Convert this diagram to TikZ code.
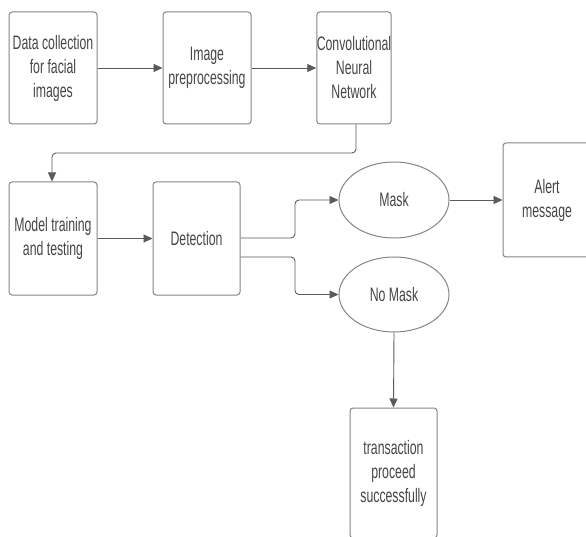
\documentclass[tikz,border=0pt]{standalone}
\usepackage{fontspec}
\setmainfont{Liberation Sans}[FakeStretch=0.63]
\usetikzlibrary{arrows.meta,shapes.geometric,calc}
\definecolor{boxline}{HTML}{858585}
\definecolor{connline}{HTML}{5A5A5A}
\definecolor{txt}{HTML}{464646}
\begin{document}
\begin{tikzpicture}[x=1pt,y=-1pt,
  every node/.style={font=\fontsize{19.5}{24}\selectfont, text=txt, align=center, inner sep=0pt},
  procbox/.style={draw=boxline, line width=1pt, rounded corners=3pt, fill=white},
  decision/.style={draw=boxline, line width=1pt, ellipse, fill=white},
  conn/.style={draw=connline, line width=0.9pt, rounded corners=4pt, -{Triangle[length=9pt,width=8pt]}}]
\useasboundingbox (0,0) rectangle (586,537);
\fill[white] (0,0) rectangle (586,537);

\node[procbox, minimum width=88pt, minimum height=112pt] (data) at (53,68) {Data collection\\for facial\\images};
\node[procbox, minimum width=88pt, minimum height=112pt] (prep) at (207,68) {Image\\preprocessing};
\node[procbox, minimum width=74pt, minimum height=112pt] (cnn) at (354,68) {Convolutional\\Neural\\Network};

\node[procbox, minimum width=88pt, minimum height=113pt] (model) at (53,238.5) {Model training\\and testing};
\node[procbox, minimum width=87pt, minimum height=113pt] (det) at (196.5,238.5) {Detection};

\node[decision, minimum width=110pt, minimum height=76pt] (mask) at (394,200) {Mask};
\node[decision, minimum width=110pt, minimum height=75pt] (nomask) at (394,294.5) {No Mask};

\node[procbox, minimum width=88pt, minimum height=114pt] (alert) at (547,200) {Alert\\message};
\node[procbox, minimum width=87pt, minimum height=130pt] (trans) at (393.5,473) {transaction\\proceed\\successfully};

\coordinate (c1) at (356,153);
\coordinate (b1) at (295,238);
\coordinate (b2) at (295,257);

\draw[conn] (data.east) -- (prep.west);
\draw[conn] (prep.east) -- (cnn.west);
\draw[conn] ([xshift=2pt]cnn.south) -- ([xshift=2pt]cnn.south |- c1) -| ([xshift=-1pt]model.north);
\draw[conn] (model.east) -- (det.west);
\draw[conn] (det.east |- b1) -- (b1) |- (mask.west);
\draw[conn] (det.east |- b2) -- (b2) |- (nomask.west);
\draw[conn] (mask.east) -- (alert.west);
\draw[conn] (nomask.south) -- (trans.north);
\end{tikzpicture}
\end{document}
